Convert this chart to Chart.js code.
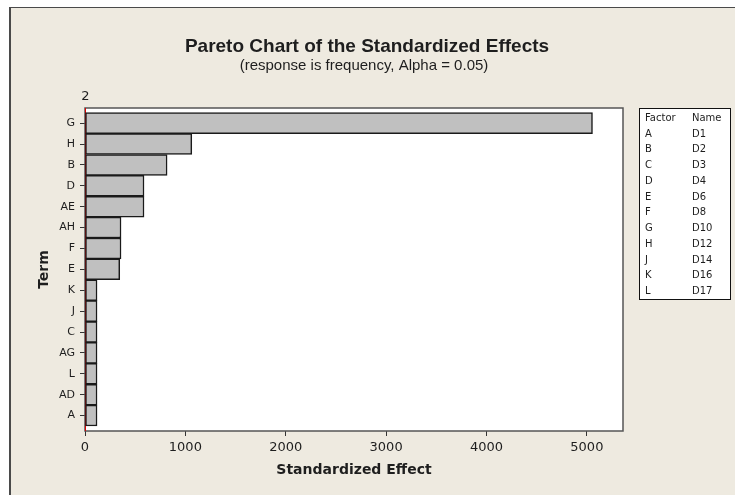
<!DOCTYPE html>
<html>
<head>
<meta charset="utf-8">
<script src="https://cdn.jsdelivr.net/npm/chart.js@4.4.1/dist/chart.umd.min.js"></script>
<style>
  html, body { margin: 0; padding: 0; background: #fff; }
  #wrap { width: 735px; height: 495px; }
</style>
</head>
<body>
<div id="wrap"><canvas id="pareto" width="735" height="495"></canvas></div>
<script>
// ── DATA ──────────────────────────────────
const terms   = ['G', 'H', 'B', 'D', 'AE', 'AH', 'F', 'E', 'K', 'J', 'C', 'AG', 'L', 'AD', 'A'];
const effects = [5056, 1064, 818, 588, 588, 359, 359, 346, 120, 120, 120, 120, 120, 120, 120];
const xTicks  = [0, 1000, 2000, 3000, 4000, 5000];
const refLine = 2;

const factors = ['A', 'B', 'C', 'D', 'E', 'F', 'G', 'H', 'J', 'K', 'L'];
const names   = ['D1', 'D2', 'D3', 'D4', 'D6', 'D8', 'D10', 'D12', 'D14', 'D16', 'D17'];

const titleText    = 'Pareto Chart of the Standardized Effects';
const subtitleText = '(response is frequency, Alpha = 0.05)';

// ── LOOK ──────────────────────────────────
const BG   = '#eeeae0';
const INK  = '#1e1e1e';
const SANS = '"DejaVu Sans", sans-serif';

// ── PLUGIN: background, frame, titles, factor table ──
const decor = {
  id: 'decor',
  beforeDraw(chart) {
    const c = chart.ctx, a = chart.chartArea;
    c.save();
    c.fillStyle = '#fff';
    c.fillRect(0, 0, chart.width, chart.height);
    c.fillStyle = BG;
    c.fillRect(9, 7, chart.width, chart.height);
    c.fillStyle = '#4a4a4a';
    c.fillRect(9, 7, 2, chart.height);
    c.fillRect(9, 7, chart.width, 1);

    // plot panel
    c.fillStyle = '#fff';
    c.fillRect(a.left, a.top, a.right - a.left, a.bottom - a.top);

    // titles
    c.fillStyle = INK;
    c.textAlign = 'center';
    c.textBaseline = 'middle';
    c.font = 'bold 19px "Liberation Sans", Arial, sans-serif';
    c.fillText(titleText, 367, 47);
    c.font = '15px "Liberation Sans", Arial, sans-serif';
    c.fillText(subtitleText, 364, 66);

    // factor table
    const bx = 639, by = 108, bw = 92, bh = 192;
    c.fillStyle = '#fff';
    c.fillRect(bx, by, bw, bh);
    c.strokeStyle = '#111';
    c.lineWidth = 1;
    c.strokeRect(bx + 0.5, by + 0.5, bw - 1, bh - 1);
    c.fillStyle = INK;
    c.textAlign = 'left';
    c.font = '10px ' + SANS;
    c.fillText('Factor', 645, 118.5);
    c.fillText('Name', 692, 118.5);
    factors.forEach((f, i) => {
      const y = 134 + i * 15.75;
      c.fillText(f, 645, y);
      c.fillText(names[i], 692, y);
    });
    c.restore();
  },
  beforeDatasetsDraw(chart) {
    const c = chart.ctx, a = chart.chartArea;
    const xs = chart.scales.x;
    c.save();
    // panel frame
    c.strokeStyle = '#555';
    c.lineWidth = 1.5;
    c.strokeRect(a.left, a.top, a.right - a.left, a.bottom - a.top);
    // reference line at alpha critical value
    const rx = Math.round(xs.getPixelForValue(refLine)) + 0.5;
    c.strokeStyle = '#e00000';
    c.lineWidth = 1;
    c.beginPath();
    c.moveTo(rx, a.top);
    c.lineTo(rx, a.bottom);
    c.stroke();
    c.fillStyle = INK;
    c.font = '13px ' + SANS;
    c.textAlign = 'center';
    c.textBaseline = 'middle';
    c.fillText(String(refLine), rx, 96.5);
    c.restore();
  }
};

// ── CHART ────────────────────────────────
new Chart(document.getElementById('pareto'), {
  type: 'bar',
  data: {
    datasets: [{
      data: effects.map((v, i) => ({ x: v, y: i })),
      backgroundColor: '#c0c0c0',
      borderColor: '#1a1a1a',
      borderWidth: 1.5,
      borderSkipped: false,
      barPercentage: 1,
      categoryPercentage: 1
    }]
  },
  options: {
    indexAxis: 'y',
    responsive: false,
    animation: false,
    layout: { padding: { left: 0, top: 108, right: 112, bottom: 0 } },
    plugins: { legend: { display: false }, tooltip: { enabled: false } },
    scales: {
      x: {
        type: 'linear',
        min: 0, max: 5360,
        offset: false,
        afterBuildTicks: s => { s.ticks = xTicks.map(v => ({ value: v })); },
        afterFit: s => { s.height = 64; },
        border: { display: false },
        grid: { offset: false, drawOnChartArea: false, drawTicks: true, tickLength: 5, color: '#333' },
        ticks: { color: INK, font: { family: SANS, size: 13 }, padding: 4, maxRotation: 0, callback: v => String(v) },
        title: {
          display: true, text: 'Standardized Effect', color: INK,
          font: { family: SANS, size: 14, weight: 'bold' },
          padding: { top: 0, bottom: 16 }
        }
      },
      y: {
        type: 'linear',
        reverse: true,
        offset: false,
        min: -0.725, max: 14.74,
        afterBuildTicks: s => { s.ticks = terms.map((t, i) => ({ value: i })); },
        afterFit: s => { s.width = 85; },
        border: { display: false },
        grid: { offset: false, drawOnChartArea: false, drawTicks: true, tickLength: 5, color: '#333' },
        ticks: {
          color: INK, font: { family: SANS, size: 11 }, padding: 5,
          callback: v => terms[v]
        },
        title: {
          display: true, text: 'Term', color: INK,
          font: { family: SANS, size: 14, weight: 'bold' },
          padding: { top: 36, bottom: 0 }
        }
      }
    }
  },
  plugins: [decor]
});
</script>
</body>
</html>
